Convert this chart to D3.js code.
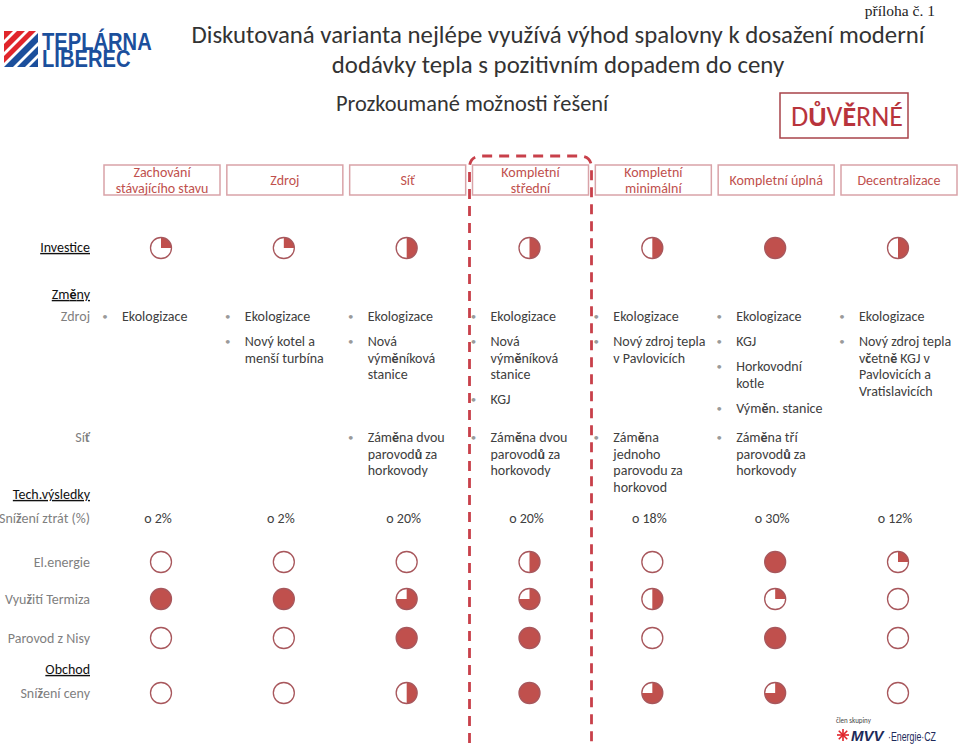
<!DOCTYPE html>
<html><head><meta charset="utf-8">
<script src="https://cdn.jsdelivr.net/npm/d3@7"></script>
<style>body{margin:0;background:#fff}svg{display:block}text{font-family:Carlito,Lato,sans-serif}</style>
</head><body><svg id="c" width="960" height="746"></svg>
<script>
// ---------- data ----------
const columns = [["Zachování","stávajícího stavu"],["Zdroj"],["Síť"],["Kompletní","střední"],["Kompletní","minimální"],["Kompletní úplná"],["Decentralizace"]];
const investice      = [0.25, 0.25, 0.5, 0.5, 0.5, 1, 0.5];
const elEnergie      = [0, 0, 0, 0.5, 0, 1, 0.25];
const vyuzitiTermiza = [1, 1, 0.75, 0.75, 0.5, 0.25, 0];
const parovodNisy    = [0, 0, 1, 1, 0, 1, 0];
const snizeniCeny    = [0, 0, 0.5, 1, 0.75, 0.75, 0];
const snizeniZtrat   = [2, 2, 20, 20, 18, 30, 12];
const zdrojChanges = [
  [["Ekologizace"]],
  [["Ekologizace"],["Nový kotel a","menší turbína"]],
  [["Ekologizace"],["Nová","výměníková","stanice"]],
  [["Ekologizace"],["Nová","výměníková","stanice"],["KGJ"]],
  [["Ekologizace"],["Nový zdroj tepla","v Pavlovicích"]],
  [["Ekologizace"],["KGJ"],["Horkovodní","kotle"],["Výměn. stanice"]],
  [["Ekologizace"],["Nový zdroj tepla","včetně KGJ v","Pavlovicích a","Vratislavicích"]]
];
const sitChanges = [
  [], [],
  [["Záměna dvou","parovodů za","horkovody"]],
  [["Záměna dvou","parovodů za","horkovody"]],
  [["Záměna","jednoho","parovodu za","horkovod"]],
  [["Záměna tří","parovodů za","horkovody"]],
  []
];
const highlighted = 3;

// ---------- setup ----------
const svg = d3.select("#c");
const RED = "#c0504d", GRAY = "#7f7f7f", DARK = "#404040";
const FS = 14;
const x = d3.scalePoint().domain(d3.range(columns.length)).range([161, 898]);
const boldChars = "ěůžťčĚŮ";
function rich(sel, str) {
  const segs = [];
  for (const ch of str) {
    const b = boldChars.includes(ch);
    if (segs.length && segs[segs.length-1].b === b) segs[segs.length-1].t += ch;
    else segs.push({t: ch, b});
  }
  sel.selectAll("tspan").data(segs).join("tspan").text(d => d.t).attr("font-weight", d => d.b ? "bold" : null);
}

// ---------- logo ----------
const logo = svg.append("g");
logo.append("clipPath").attr("id","lc").append("rect").attr("x",4).attr("y",31).attr("width",34).attr("height",36);
const stripes = [[35,44,"#e0252b"],[48,56,"#e0252b"],[60,67,"#e0252b"],[71,80,"#1b4f9c"],[84,92,"#1b4f9c"],[96,108,"#1b4f9c"]];
logo.append("g").attr("clip-path","url(#lc)").selectAll("polygon").data(stripes).join("polygon")
  .attr("points", d => `${d[0]},0 ${d[0]-100},100 ${d[1]-100},100 ${d[1]},0`).attr("fill", d => d[2]);
const lt = logo.append("g").attr("transform","translate(42,0) scale(0.84,1)")
  .append("text").attr("font-weight","bold").attr("font-size",24).attr("fill","#1b4f9c")
  .style("font-family","'Liberation Sans',Arial");
lt.append("tspan").attr("x",0).attr("y",50).text("TEPLÁRNA");
lt.append("tspan").attr("x",0).attr("y",67).text("LIBEREC");

// ---------- titles ----------
svg.append("text").attr("x",935).attr("y",16).attr("text-anchor","end").attr("font-size",15.5)
  .style("font-family","'Liberation Serif',serif").attr("fill","#222").text("příloha č. 1");
svg.append("text").attr("x",558).attr("y",43).attr("text-anchor","middle").attr("font-size",24.8).attr("fill","#333")
  .text("Diskutovaná varianta nejlépe využívá výhod spalovny k dosažení moderní");
svg.append("text").attr("x",558).attr("y",73).attr("text-anchor","middle").attr("font-size",24.8).attr("fill","#333")
  .text("dodávky tepla s pozitivním dopadem do ceny");
svg.append("text").attr("x",336).attr("y",111).attr("font-size",22.4).attr("fill","#333")
  .text("Prozkoumané možnosti řešení");
svg.append("rect").attr("x",780).attr("y",93).attr("width",128).attr("height",45).attr("fill","none").attr("stroke","#a8434a").attr("stroke-width",1.5);
svg.append("text").attr("x",847).attr("y",126).attr("text-anchor","middle").attr("font-size",28).attr("fill","#b8343c")
  .call(rich, "DŮVĚRNÉ");

// ---------- header boxes ----------
const hb = svg.append("g").selectAll("g").data(columns).join("g");
hb.append("rect").attr("x", (d,i) => x(i) + 1 - 58).attr("y",165).attr("width",116).attr("height",30)
  .attr("fill","#fff").attr("stroke","#d9a3a8").attr("stroke-width",1.5);
hb.each(function(d,i){
  const g = d3.select(this);
  d.forEach((line,k) => {
    g.append("text").attr("x", x(i)+1).attr("y", 180 + (k - (d.length-1)/2)*16).attr("dy","0.35em")
      .attr("text-anchor","middle").attr("font-size",FS).attr("fill",RED).text(line);
  });
});

// ---------- highlight dashed frame ----------
{
  const l = x(highlighted) - 60, r = x(highlighted) + 62, t = 156, rr = 12;
  svg.append("path").attr("d",`M${l},760 L${l},${t+rr} Q${l},${t} ${l+rr},${t} L${r-rr},${t} Q${r},${t} ${r},${t+rr} L${r},760`)
    .attr("fill","none").attr("stroke","#c8404a").attr("stroke-width",2.8).attr("stroke-dasharray","10,7");
}

// ---------- row labels ----------
const labels = [
  {t:"Investice", y:247, u:true},
  {t:"Změny", y:294, u:true},
  {t:"Zdroj", y:316, u:false},
  {t:"Síť", y:437, u:false},
  {t:"Tech.výsledky", y:494, u:true},
  {t:"Snížení ztrát (%)", y:518, u:false},
  {t:"El.energie", y:562, u:false},
  {t:"Využití Termiza", y:599, u:false},
  {t:"Parovod z Nisy", y:638, u:false},
  {t:"Obchod", y:669, u:true},
  {t:"Snížení ceny", y:693, u:false}
];
svg.append("g").selectAll("text").data(labels).join("text")
  .attr("x",90).attr("y",d=>d.y).attr("dy","0.35em").attr("text-anchor","end").attr("font-size",FS)
  .attr("fill", d => d.u ? "#111" : GRAY).style("text-decoration", d => d.u ? "underline" : null)
  .each(function(d){ d3.select(this).call(rich, d.t); });

// ---------- Harvey balls ----------
const R = 10.5;
const arc = d3.arc().innerRadius(0).outerRadius(R).startAngle(0);
const harveyRows = [
  {vals: investice, y: 248},
  {vals: elEnergie, y: 562},
  {vals: vyuzitiTermiza, y: 599},
  {vals: parovodNisy, y: 638},
  {vals: snizeniCeny, y: 693}
];
harveyRows.forEach(row => {
  const g = svg.append("g").selectAll("g").data(row.vals).join("g")
    .attr("transform", (d,i) => `translate(${x(i)},${row.y})`);
  g.append("circle").attr("r", R).attr("fill","#fff");
  g.filter(d => d > 0).append("path").attr("d", d => arc({endAngle: d * 2 * Math.PI})).attr("fill", RED);
  g.append("circle").attr("r", R).attr("fill","none").attr("stroke","#a8575c").attr("stroke-width",1.3);
});

// ---------- bullet lists ----------
function bullets(data, y0) {
  const LH = 16.7, GAP = 25;
  data.forEach((items, i) => {
    let y = y0;
    items.forEach(lines => {
      svg.append("text").attr("x", x(i) - 56).attr("y", y).attr("dy","0.35em").attr("text-anchor","middle")
        .attr("font-size",11).attr("fill","#9a9a9a").text("•");
      lines.forEach((ln,k) => {
        svg.append("text").attr("x", x(i) - 39).attr("y", y + k*LH).attr("dy","0.35em")
          .attr("font-size",FS).attr("fill",DARK).call(rich, ln);
      });
      y += (lines.length - 1) * LH + GAP;
    });
  });
}
bullets(zdrojChanges, 316);
bullets(sitChanges, 437);

// ---------- loss reduction ----------
svg.append("g").selectAll("text").data(snizeniZtrat).join("text")
  .attr("x",(d,i)=>x(i)-3).attr("y",518).attr("dy","0.35em").attr("text-anchor","middle")
  .attr("font-size",FS).attr("fill",DARK).text(d => `o ${d}%`);

// ---------- MVV logo ----------
svg.append("text").attr("x",836).attr("y",723).attr("font-size",7).attr("fill","#444").text("člen skupiny");
const star = svg.append("g").attr("transform","translate(843,735)");
d3.range(8).forEach(k => star.append("line").attr("x1",0).attr("y1",0)
  .attr("x2",6*Math.cos(k*Math.PI/4)).attr("y2",6*Math.sin(k*Math.PI/4)).attr("stroke","#e0252b").attr("stroke-width",1.6));
svg.append("text").attr("x",851).attr("y",741).attr("font-size",15).attr("font-weight","900").attr("font-style","italic")
  .attr("fill","#1d2a5a").style("font-family","'Liberation Sans',Arial").text("MVV");
svg.append("text").attr("x",888).attr("y",741).attr("font-size",13).attr("fill","#1d2a5a")
  .attr("textLength",48).attr("lengthAdjust","spacingAndGlyphs").style("font-family","'Liberation Sans Narrow','Liberation Sans',Arial").text("·Energie·CZ");
</script></body></html>
